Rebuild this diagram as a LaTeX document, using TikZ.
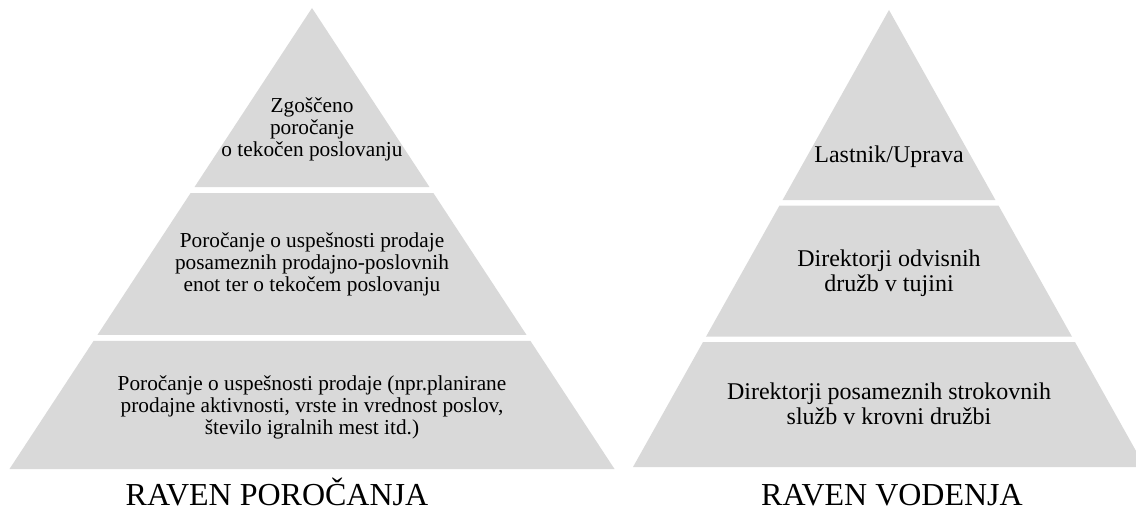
\documentclass[tikz,border=0pt]{standalone}
\usepackage{fontspec}
\setmainfont{Liberation Serif}
\usetikzlibrary{calc}
\definecolor{bandgray}{HTML}{D9D9D9}
\tikzset{
  bandfill/.style={fill=bandgray, draw=none},
  lefttext/.style={align=center, inner sep=0pt, anchor=north, font=\fontsize{21.3}{22}\selectfont},
  righttext/.style={align=center, inner sep=0pt, anchor=north, font=\fontsize{24}{25}\selectfont},
  levellabel/.style={inner sep=0pt, anchor=base, font=\fontsize{32}{36}\selectfont},
}
\newcommand{\tsL}{\rule{0pt}{20pt}}
\newcommand{\tsR}{\rule{0pt}{22pt}}
\newcommand{\pyrband}[5]{%
  \fill[bandfill] ($(#1)!#4!(#2)$) -- ($(#1)!#5!(#2)$) -- ($(#1)!#5!(#3)$) -- ($(#1)!#4!(#3)$) -- cycle;}
\begin{document}
\begin{tikzpicture}[x=1pt,y=-1pt]
\useasboundingbox (0,0) rectangle (1136,513);
\clip (0,0) rectangle (1136,513);
% left pyramid
\coordinate (LA) at (312,8);
\coordinate (LL) at (9.5,469);
\coordinate (LR) at (614.5,469);
\pyrband{LA}{LL}{LR}{0}{0.3883}
\pyrband{LA}{LL}{LR}{0.4013}{0.7093}
\pyrband{LA}{LL}{LR}{0.7223}{1}
% right pyramid
\coordinate (RA) at (889,10);
\coordinate (RL) at (633,467);
\coordinate (RR) at (1145,467);
\pyrband{RA}{RL}{RR}{0}{0.4158}
\pyrband{RA}{RL}{RR}{0.4282}{0.7149}
\pyrband{RA}{RL}{RR}{0.7265}{1}
% left texts
\node[lefttext] (l1) at (312,92.5) {\tsL Zgoščeno\\poročanje\\o tekočen poslovanju};
\node[lefttext] (l2) at (312,227) {\tsL Poročanje o uspešnosti prodaje\\posameznih prodajno-poslovnih\\enot ter o tekočem poslovanju};
\node[lefttext] (l3) at (312,370.7) {\tsL Poročanje o uspešnosti prodaje (npr.planirane\\prodajne aktivnosti, vrste in vrednost poslov,\\število igralnih mest itd.)};
% right texts
\node[righttext] (r1) at (889,140.7) {\tsR Lastnik/Uprava};
\node[righttext] (r2) at (889,244) {\tsR Direktorji odvisnih\\družb v tujini};
\node[righttext] (r3) at (889,377.3) {\tsR Direktorji posameznih strokovnih\\služb v krovni družbi};
% labels
\node[levellabel] (lab1) at (277,505) {RAVEN POROČANJA};
\node[levellabel] (lab2) at (892,505) {RAVEN VODENJA};
\end{tikzpicture}
\end{document}
